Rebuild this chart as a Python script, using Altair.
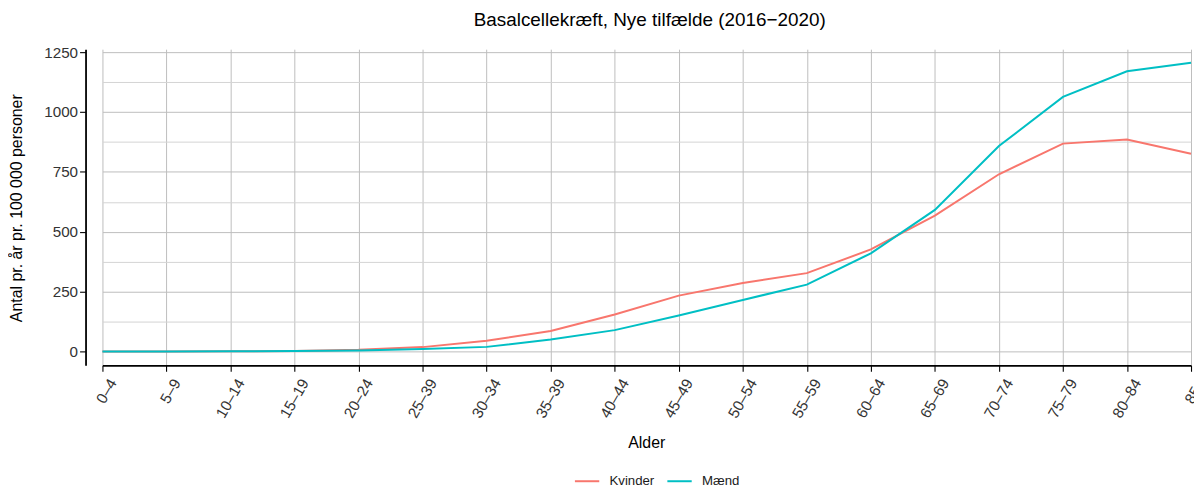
import altair as alt
import pandas as pd

categories = ["0–4", "5–9", "10–14", "15–19", "20–24", "25–39", "30–34", "35–39",
              "40–44", "45–49", "50–54", "55–59", "60–64", "65–69", "70–74",
              "75–79", "80–84", "85+"]
kvinder = [0, 0, 0.5, 2, 7, 18, 45, 85, 154, 233, 286, 327, 426, 567, 740, 868, 885, 826]
maend = [0, 0, 0.5, 2, 4, 10, 19, 50, 89, 150, 215, 279, 410, 591, 858, 1063, 1170, 1206]
series = ["Kvinder", "Mænd"]
colors = ["#F8766D", "#00BFC4"]
y_values = [0, 125, 250, 375, 500, 625, 750, 875, 1000, 1125, 1250]

rows = []
for name, vals in zip(series, [kvinder, maend]):
    for c, v in zip(categories, vals):
        rows.append({"Alder": c, "Køn": name, "Antal": v})
df = pd.DataFrame(rows)

FONT = "Liberation Sans"

chart = alt.Chart(df).mark_line(strokeWidth=2).encode(
    x=alt.X("Alder:N", sort=categories,
            scale=alt.Scale(type="point", range=[17, 1112], padding=0),
            axis=alt.Axis(title="Alder", labelAngle=300, labelAlign="right",
                          labelBaseline="top", labelPadding=5, labelOffset=4,
                          titleX=564, titleY=78, titleBaseline="middle",
                          titleAnchor="middle")),
    y=alt.Y("Antal:Q",
            scale=alt.Scale(domain=[-58, 1262.5], nice=False, zero=False),
            axis=alt.Axis(title="Antal pr. år pr. 100 000 personer",
                          values=y_values, format="d", labelPadding=2,
                          labelExpr="datum.value % 250 == 0 ? datum.label : ''",
                          tickOpacity={"expr": "datum.value % 250 == 0 ? 1 : 0"},
                          gridColor={"expr": "datum.value % 250 == 0 ? '#bdbdbd' : '#d4d4d4'"},
                          titleX=-69, titleY=159.5, titleBaseline="middle",
                          titleAnchor="middle", titleAngle=270)),
    color=alt.Color("Køn:N", scale=alt.Scale(domain=series, range=colors),
                    legend=alt.Legend(title=None, orient="none", direction="horizontal",
                                      legendX=491, legendY=421,
                                      symbolType="stroke", symbolStrokeWidth=2,
                                      symbolSize=600, labelOffset=9, columnPadding=8,
                                      labelFontSize=13.3, labelFont=FONT,
                                      labelColor="#1a1a1a", padding=0)),
).properties(
    width=1115,
    height=318,
    autosize=alt.AutoSizeParams(type="none"),
    padding={"left": 78, "top": 40, "right": 0, "bottom": 123},
    title=alt.TitleParams("Basalcellekræft, Nye tilfælde (2016−2020)",
                          font=FONT, fontSize=19, fontWeight="normal",
                          color="#000000", anchor="middle", offset=15, dx=10),
).configure_axis(
    labelFont=FONT, labelFontSize=15.3, labelColor="#333333",
    titleFont=FONT, titleFontSize=16, titleFontWeight="normal", titleColor="#000000",
    domainColor="#000000", domainWidth=1.8,
    tickColor="#000000", tickSize=6, tickWidth=1.1,
    gridColor="#bdbdbd", gridWidth=1, grid=True,
).configure_view(stroke=None)

chart.save("out.html", embed_options={"renderer": "svg", "actions": False})
